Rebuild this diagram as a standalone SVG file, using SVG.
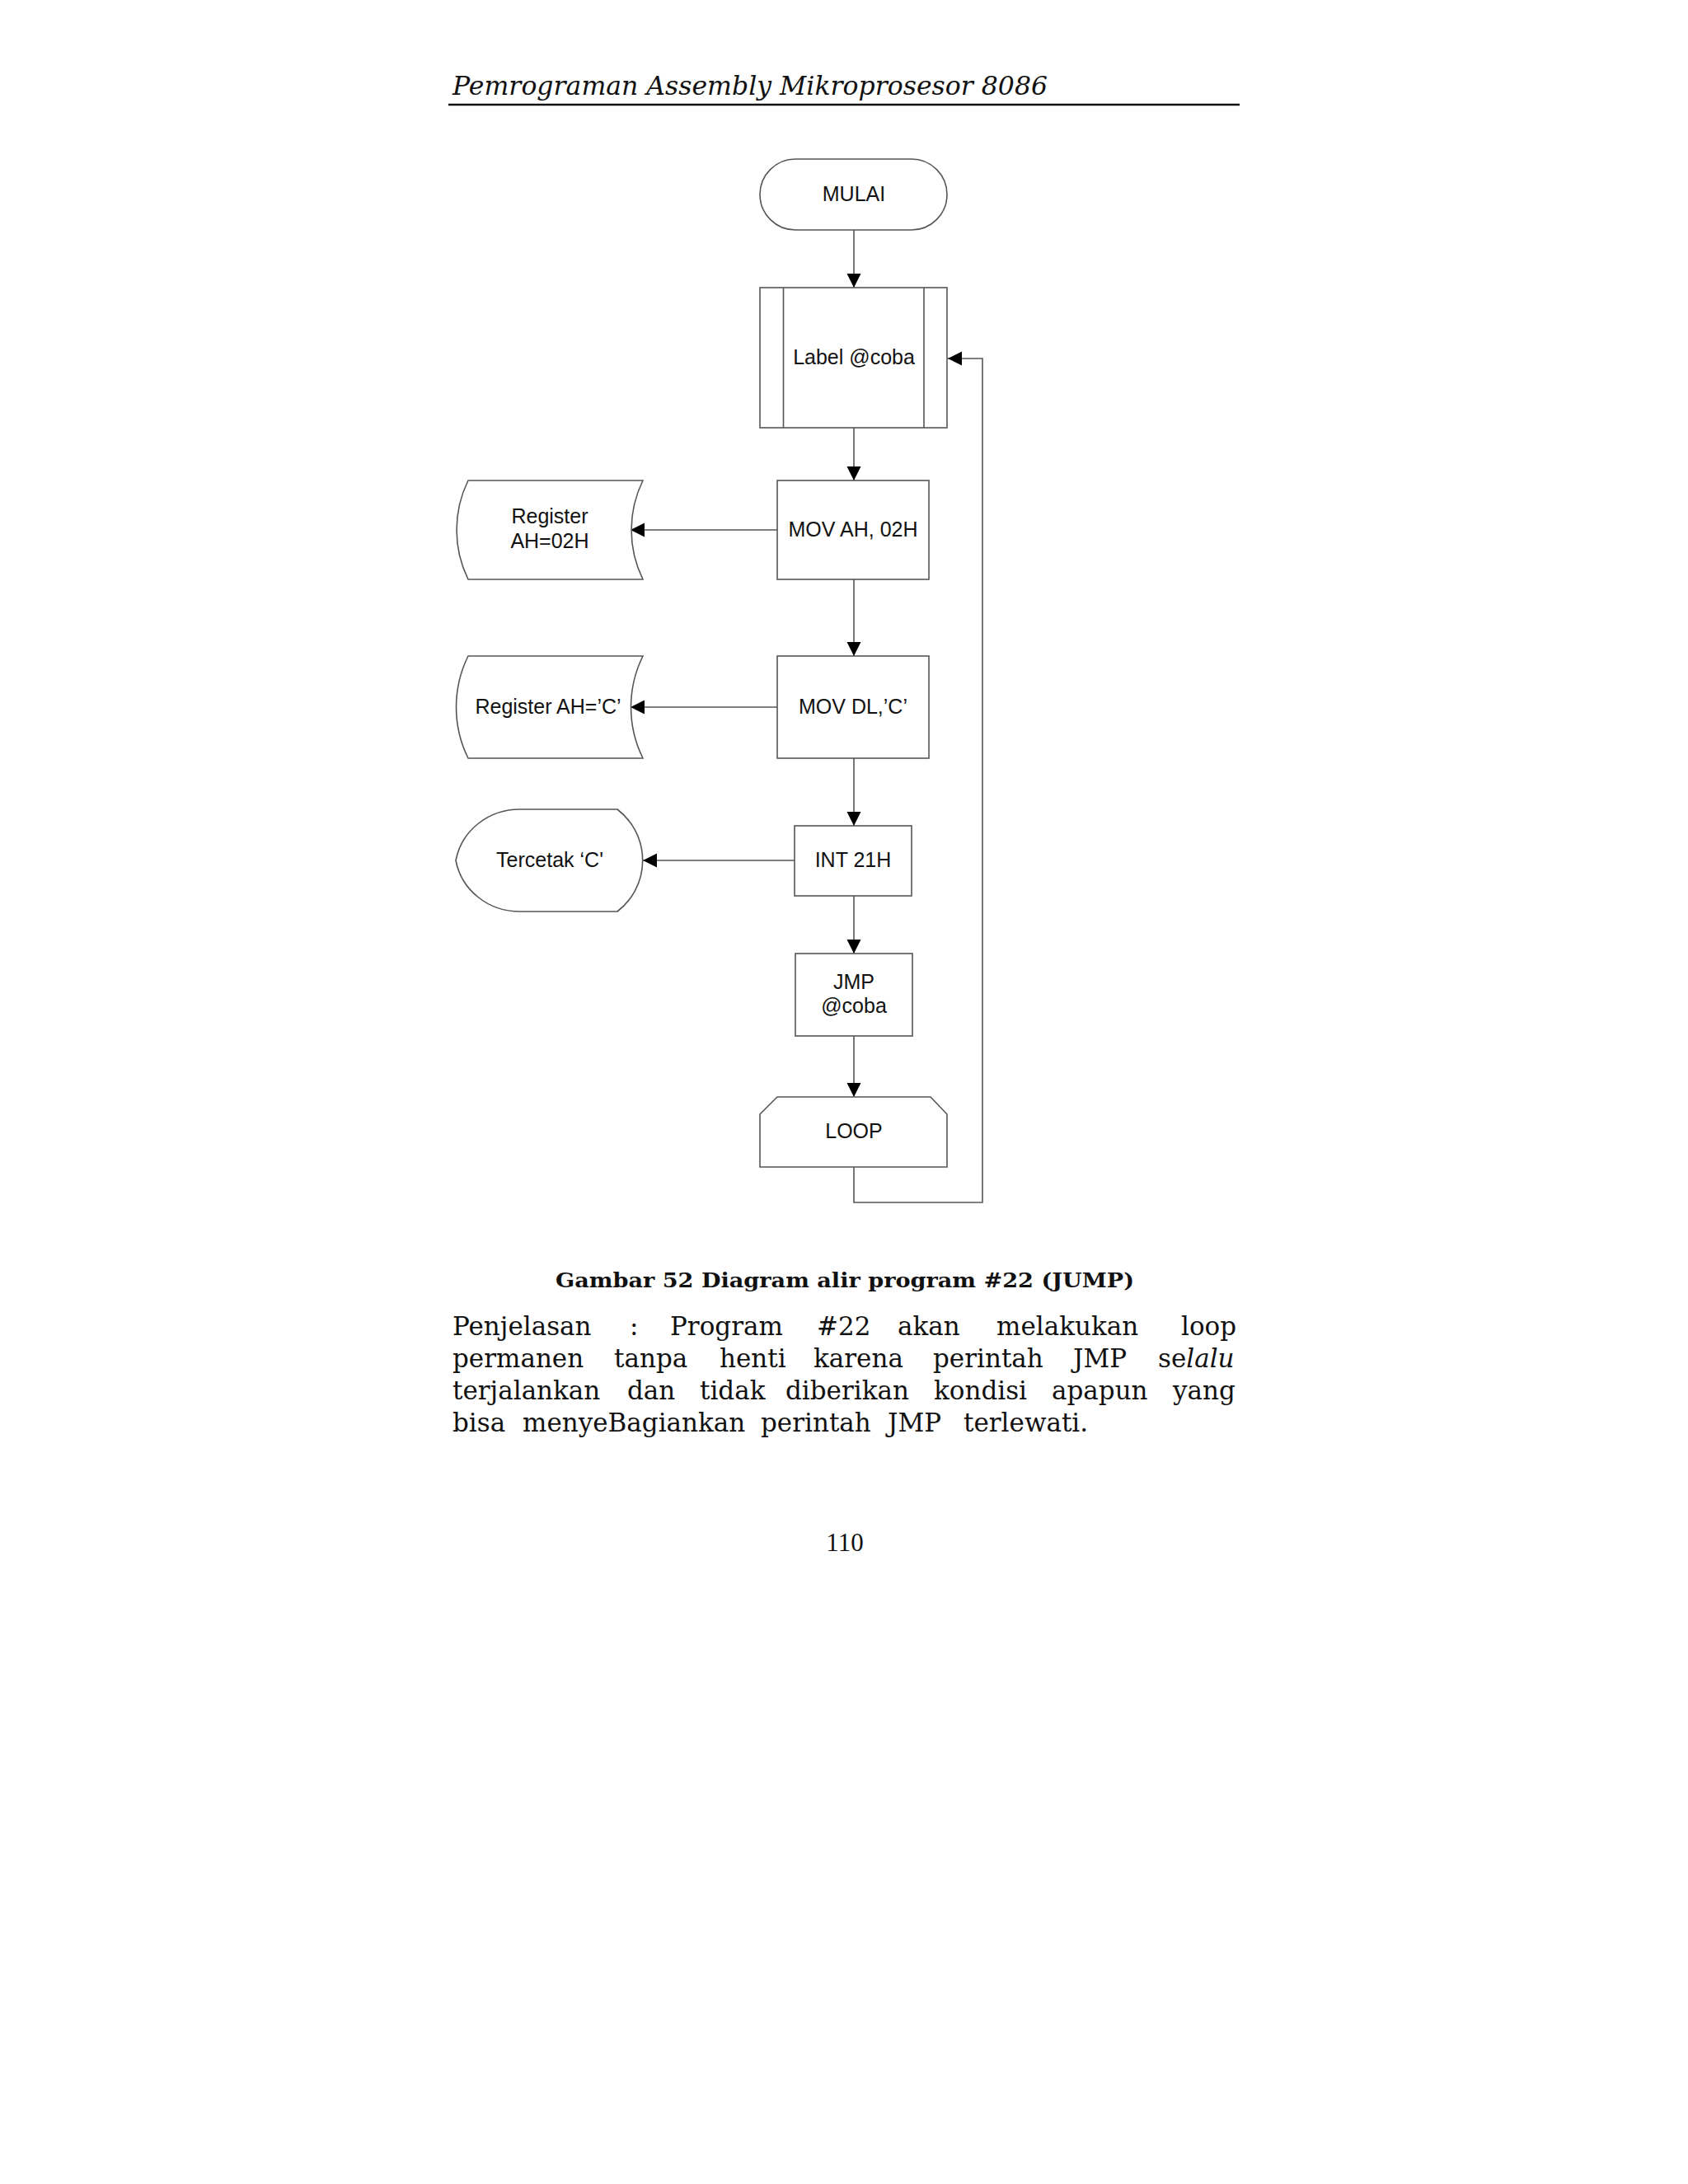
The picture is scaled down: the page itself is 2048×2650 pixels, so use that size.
<svg xmlns="http://www.w3.org/2000/svg" width="2048" height="2650" viewBox="0 0 2048 2650">
<defs>
<marker id="arr" markerUnits="userSpaceOnUse" markerWidth="18" markerHeight="18" refX="17" refY="8.5" orient="auto">
<path d="M0,0 L17,8.5 L0,17 Z" fill="#000"/>
</marker>
<style>
.shape{fill:#fff;stroke:#555;stroke-width:1.6}
.conn{fill:none;stroke:#555;stroke-width:1.6}
.lbl{font-family:"Liberation Sans",Arial,sans-serif;font-size:25px;fill:#111;text-anchor:middle}
.body{font-family:"DejaVu Serif",serif;font-size:31px;fill:#111}
</style>
</defs>
<rect width="2048" height="2650" fill="#fff"/>

<g id="header">
<text x="549" y="115" font-family="DejaVu Serif, serif" font-style="italic" font-size="32" fill="#111" textLength="722" lengthAdjust="spacingAndGlyphs">Pemrograman Assembly Mikroprosesor 8086</text>
<line x1="544" y1="127" x2="1504" y2="127" stroke="#111" stroke-width="2.5"/>
</g>

<g id="connectors">
<line class="conn" x1="1036" y1="279" x2="1036" y2="349" marker-end="url(#arr)"/>
<line class="conn" x1="1036" y1="519" x2="1036" y2="583" marker-end="url(#arr)"/>
<line class="conn" x1="1036" y1="703" x2="1036" y2="796" marker-end="url(#arr)"/>
<line class="conn" x1="1036" y1="920" x2="1036" y2="1002" marker-end="url(#arr)"/>
<line class="conn" x1="1036" y1="1087" x2="1036" y2="1157" marker-end="url(#arr)"/>
<line class="conn" x1="1036" y1="1257" x2="1036" y2="1331" marker-end="url(#arr)"/>
<polyline class="conn" points="1036,1416 1036,1459 1192,1459 1192,435 1150,435" marker-end="url(#arr)"/>
<line class="conn" x1="943" y1="643" x2="765" y2="643" marker-end="url(#arr)"/>
<line class="conn" x1="943" y1="858" x2="765" y2="858" marker-end="url(#arr)"/>
<line class="conn" x1="964" y1="1044" x2="780" y2="1044" marker-end="url(#arr)"/>
</g>

<g id="mulai">
<rect class="shape" x="922" y="193" width="227" height="86" rx="43" ry="43"/>
<text class="lbl" x="1036" y="244">MULAI</text>
</g>

<g id="label-coba">
<rect class="shape" x="922" y="349" width="227" height="170"/>
<line class="conn" x1="950.5" y1="349" x2="950.5" y2="519"/>
<line class="conn" x1="1121" y1="349" x2="1121" y2="519"/>
<text class="lbl" x="1036" y="442">Label @coba</text>
</g>

<g id="mov-ah">
<rect class="shape" x="943" y="583" width="184" height="120"/>
<text class="lbl" x="1035" y="651">MOV AH, 02H</text>
</g>

<g id="reg-ah-02h">
<path class="shape" d="M568,583 L780,583 A136,136 0 0 0 780,703 L568,703 A136,136 0 0 1 568,583 Z"/>
<text class="lbl" x="667" y="635">Register</text>
<text class="lbl" x="667" y="665">AH=02H</text>
</g>

<g id="mov-dl">
<rect class="shape" x="943" y="796" width="184" height="124"/>
<text class="lbl" x="1035" y="866">MOV DL,’C’</text>
</g>

<g id="reg-ah-c">
<path class="shape" d="M568,796 L780,796 A140,140 0 0 0 780,920 L568,920 A140,140 0 0 1 568,796 Z"/>
<text class="lbl" x="665" y="866">Register AH=’C’</text>
</g>

<g id="int21h">
<rect class="shape" x="964" y="1002" width="142" height="85"/>
<text class="lbl" x="1035" y="1052">INT 21H</text>
</g>

<g id="tercetak">
<path class="shape" d="M631,982 L749,982 A78,78 0 0 1 749,1106 L631,1106 C592,1106 560,1080 553,1044 C560,1008 592,982 631,982 Z"/>
<text class="lbl" x="667" y="1052">Tercetak ‘C'</text>
</g>

<g id="jmp">
<rect class="shape" x="965" y="1157" width="142" height="100"/>
<text class="lbl" x="1036" y="1200">JMP</text>
<text class="lbl" x="1036" y="1229">@coba</text>
</g>

<g id="loop">
<path class="shape" d="M943,1331 L1129,1331 L1149,1352 L1149,1416 L922,1416 L922,1352 Z"/>
<text class="lbl" x="1036" y="1381">LOOP</text>
</g>

<g id="caption">
<text x="674" y="1562" font-family="DejaVu Serif, serif" font-weight="bold" font-size="25" fill="#111" textLength="702" lengthAdjust="spacingAndGlyphs">Gambar 52 Diagram alir program #22 (JUMP)</text>
</g>

<g id="paragraph" class="body">
<text class="body" y="1620"><tspan x="549">Penjelasan</tspan><tspan x="764">:</tspan><tspan x="813">Program</tspan><tspan x="991">#22</tspan><tspan x="1089">akan</tspan><tspan x="1209">melakukan</tspan><tspan x="1433">loop</tspan></text>
<text class="body" y="1659"><tspan x="549">permanen</tspan><tspan x="745">tanpa</tspan><tspan x="873">henti</tspan><tspan x="987">karena</tspan><tspan x="1132">perintah</tspan><tspan x="1302">JMP</tspan><tspan x="1405">se</tspan><tspan font-style="italic">lalu</tspan></text>
<text class="body" y="1698"><tspan x="549">terjalankan</tspan><tspan x="761">dan</tspan><tspan x="849">tidak</tspan><tspan x="953">diberikan</tspan><tspan x="1133">kondisi</tspan><tspan x="1276">apapun</tspan><tspan x="1423">yang</tspan></text>
<text class="body" y="1737"><tspan x="549">bisa</tspan><tspan x="634">menyeBagiankan</tspan><tspan x="923">perintah</tspan><tspan x="1077">JMP</tspan><tspan x="1169">terlewati.</tspan></text>
</g>

<g id="page-number">
<text x="1025" y="1882" font-family="Liberation Serif, serif" font-size="31" fill="#111" text-anchor="middle">110</text>
</g>
</svg>
